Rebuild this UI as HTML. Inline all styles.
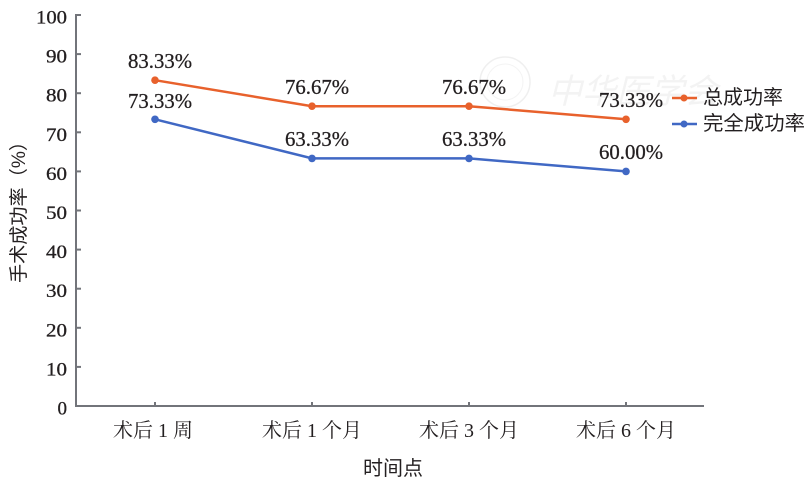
<!DOCTYPE html>
<html><head><meta charset="utf-8"><style>
html,body{margin:0;padding:0;background:#fff;}
svg{display:block;}
text{font-family:"Liberation Serif","Noto Serif CJK SC",serif;fill:#231f20;}
.cjk{font-family:"Liberation Sans","Noto Sans CJK SC",sans-serif;}
.scjk{font-family:"Liberation Serif","Noto Serif CJK SC",serif;}
</style></head><body>
<svg width="811" height="487" viewBox="0 0 811 487" xmlns="http://www.w3.org/2000/svg">
<!-- watermark -->
<g opacity="0.22">
<circle cx="505" cy="82" r="25" fill="none" stroke="#bbb" stroke-width="1.5"/>
<circle cx="505" cy="82" r="18" fill="none" stroke="#ccc" stroke-width="1"/>
<text x="548" y="103" font-size="34" font-style="italic" style="fill:#ccc" class="cjk">中华医学会</text>
</g>
<!-- axes -->
<g stroke="#72747a" stroke-width="2" fill="none">
<line x1="76" y1="14" x2="76" y2="407"/>
<line x1="75" y1="406" x2="704" y2="406"/>
<line x1="76" y1="15" x2="81" y2="15"/>
<line x1="76" y1="54.1" x2="81" y2="54.1"/>
<line x1="76" y1="93.2" x2="81" y2="93.2"/>
<line x1="76" y1="132.3" x2="81" y2="132.3"/>
<line x1="76" y1="171.4" x2="81" y2="171.4"/>
<line x1="76" y1="210.5" x2="81" y2="210.5"/>
<line x1="76" y1="249.6" x2="81" y2="249.6"/>
<line x1="76" y1="288.7" x2="81" y2="288.7"/>
<line x1="76" y1="327.8" x2="81" y2="327.8"/>
<line x1="76" y1="366.9" x2="81" y2="366.9"/>
<line x1="155" y1="402" x2="155" y2="406"/>
<line x1="312" y1="402" x2="312" y2="406"/>
<line x1="469" y1="402" x2="469" y2="406"/>
<line x1="626" y1="402" x2="626" y2="406"/>
</g>
<!-- y tick labels -->
<g font-size="19" text-anchor="end" stroke="#231f20" stroke-width="0.3">
<text x="67" y="23.5" textLength="31" lengthAdjust="spacingAndGlyphs">100</text>
<text x="67" y="62.6" textLength="21" lengthAdjust="spacingAndGlyphs">90</text>
<text x="67" y="101.7" textLength="21" lengthAdjust="spacingAndGlyphs">80</text>
<text x="67" y="140.8" textLength="21" lengthAdjust="spacingAndGlyphs">70</text>
<text x="67" y="179.9" textLength="21" lengthAdjust="spacingAndGlyphs">60</text>
<text x="67" y="219" textLength="21" lengthAdjust="spacingAndGlyphs">50</text>
<text x="67" y="258.1" textLength="21" lengthAdjust="spacingAndGlyphs">40</text>
<text x="67" y="297.2" textLength="21" lengthAdjust="spacingAndGlyphs">30</text>
<text x="67" y="336.3" textLength="21" lengthAdjust="spacingAndGlyphs">20</text>
<text x="67" y="375.4" textLength="21" lengthAdjust="spacingAndGlyphs">10</text>
<text x="67" y="414.5">0</text>
</g>
<!-- x tick labels -->
<g font-size="20" class="scjk">
<text x="113" y="437" textLength="80" lengthAdjust="spacingAndGlyphs">术后 1 周</text>
<text x="262" y="437" textLength="100" lengthAdjust="spacingAndGlyphs">术后 1 个月</text>
<text x="419" y="437" textLength="100" lengthAdjust="spacingAndGlyphs">术后 3 个月</text>
<text x="576" y="437" textLength="100" lengthAdjust="spacingAndGlyphs">术后 6 个月</text>
</g>
<text x="363" y="475" font-size="20" class="cjk" textLength="60" lengthAdjust="spacingAndGlyphs">时间点</text>
<text transform="translate(25,283) rotate(-90)" font-size="19" class="cjk" textLength="151" lengthAdjust="spacingAndGlyphs">手术成功率（%）</text>
<!-- series -->
<polyline points="155,80.2 312,106.2 469,106.2 626,119.3" fill="none" stroke="#e8612c" stroke-width="2.5"/>
<polyline points="155,119.3 312,158.4 469,158.4 626,171.4" fill="none" stroke="#4068c4" stroke-width="2.5"/>
<g fill="#e8612c">
<circle cx="155" cy="80.2" r="3.8"/><circle cx="312" cy="106.2" r="3.8"/><circle cx="469" cy="106.2" r="3.8"/><circle cx="626" cy="119.3" r="3.8"/>
</g>
<g fill="#4068c4">
<circle cx="155" cy="119.3" r="3.8"/><circle cx="312" cy="158.4" r="3.8"/><circle cx="469" cy="158.4" r="3.8"/><circle cx="626" cy="171.4" r="3.8"/>
</g>
<!-- data labels -->
<g font-size="21" text-anchor="middle" stroke="#231f20" stroke-width="0.3">
<text x="160" y="68" textLength="64" lengthAdjust="spacingAndGlyphs">83.33%</text>
<text x="160" y="108" textLength="64" lengthAdjust="spacingAndGlyphs">73.33%</text>
<text x="317" y="94" textLength="64" lengthAdjust="spacingAndGlyphs">76.67%</text>
<text x="474" y="94" textLength="64" lengthAdjust="spacingAndGlyphs">76.67%</text>
<text x="317" y="146" textLength="64" lengthAdjust="spacingAndGlyphs">63.33%</text>
<text x="474" y="146" textLength="64" lengthAdjust="spacingAndGlyphs">63.33%</text>
<text x="631" y="107" textLength="64" lengthAdjust="spacingAndGlyphs">73.33%</text>
<text x="631" y="159" textLength="64" lengthAdjust="spacingAndGlyphs">60.00%</text>
</g>
<!-- legend -->
<line x1="672" y1="98" x2="697" y2="98" stroke="#e8612c" stroke-width="2.5"/>
<circle cx="684" cy="98" r="3.5" fill="#e8612c"/>
<line x1="672" y1="124" x2="697" y2="124" stroke="#4068c4" stroke-width="2.5"/>
<circle cx="684" cy="124" r="3.5" fill="#4068c4"/>
<text x="703" y="104" font-size="20" class="cjk" textLength="80" lengthAdjust="spacingAndGlyphs">总成功率</text>
<text x="703" y="130" font-size="20" class="cjk" textLength="102" lengthAdjust="spacingAndGlyphs">完全成功率</text>
</svg>
</body></html>
